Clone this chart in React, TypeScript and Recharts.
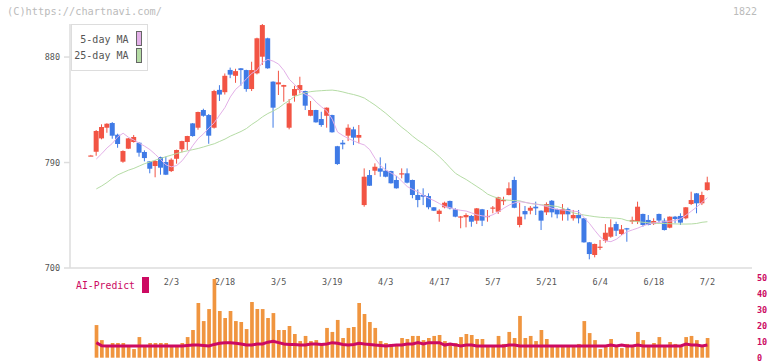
import React from 'react';
import { ComposedChart, Bar, Line, XAxis, YAxis, Legend } from 'recharts';

// ---- price data (daily candles) ----
const open = [
  796, 799.2, 810.6, 819.7, 823.7, 813.7, 790.7, 801.8, 807.5, 806.9,
  799, 791, 787, 794.7, 790.4, 782.7, 793.2, 801.3, 807.5, 823.4,
  819.7, 834.8, 830.5, 819.7, 852, 850, 869, 864, 870.4, 868.9,
  852.7, 866.1, 880.3, 896, 859, 856.7, 854.7, 819.7, 847, 851.8,
  851, 829.9, 834.8, 827.1, 829.9, 830.5, 803.9, 806.9, 812.9, 818.3,
  811.2, 753.7, 779.3, 783, 785, 783, 782.7, 775.1, 780.2, 780.8,
  775.1, 762.3, 762.3, 761.4, 751.8, 746.1, 751.8, 757.2, 750.1, 743.5,
  743.3, 744.4, 740.4, 750.1, 743.8, 750.9, 748, 757.4, 762.3, 775.1,
  736.7, 748.6, 748.9, 752.3, 748.9, 747.5, 757.4, 750.3, 745.8, 750.3,
  742.4, 745.2, 742.4, 721.9, 711.1, 717.3, 723.3, 726.7, 737.5, 729,
  733.9, 739.5, 739.5, 746.1, 741, 737.5, 746.1, 740.4, 734.4, 743.8,
  744.4, 742.4, 754.6, 763.7, 755.2, 766.5,
];
const high = [
  796.5, 817.7, 822.6, 823.5, 824.5, 814.6, 800.4, 811, 813.5, 807.2,
  800.4, 791.3, 792.1, 795, 795, 793.6, 801, 808.6, 812.8, 823.7,
  833.4, 835.9, 831.4, 852, 856, 866, 871, 870, 870.6, 869.2,
  876, 896.5, 908.2, 896.5, 859.3, 868.3, 856.3, 844.2, 855.5, 863.2,
  851.3, 842.5, 835, 833.3, 837, 830.8, 804.2, 809.2, 822.6, 820.5,
  822, 785, 783.6, 789.3, 794.4, 789.3, 783, 778.5, 785, 785,
  775.4, 767.1, 768, 763.7, 752, 750.1, 756.6, 757.5, 751, 744.4,
  746.7, 745.2, 751.2, 750.4, 749.5, 752.9, 760.8, 760.8, 773.1, 777.9,
  755.7, 752.9, 752.9, 756.6, 749.2, 756, 758, 750.6, 754.6, 751.5,
  749.5, 749.5, 742.7, 722.2, 720.8, 723.9, 737.5, 741.5, 739.5, 736.7,
  734.2, 743.8, 756.6, 746.4, 745.2, 742.4, 746.4, 742.4, 744, 744.4,
  746.7, 752, 765.1, 764, 765.1, 777.9,
];
const low = [
  795.8, 795.8, 809.8, 815.4, 810.3, 802.6, 789.8, 801.5, 807, 795,
  791, 780.8, 777.4, 779.6, 779.3, 781.9, 789, 798.7, 800.7, 812,
  818, 829.1, 806, 819, 842.5, 848, 862, 858, 855.5, 850.4,
  851, 865.2, 873.2, 870, 819.7, 847.6, 841.9, 818.3, 841.9, 849,
  834.8, 829.5, 824, 820.5, 819.7, 815.5, 788, 801.3, 808.3, 804.9,
  806.4, 752.3, 770, 779.3, 777.9, 777.4, 772, 767.7, 776.5, 772.2,
  759.5, 751.8, 753.7, 750.1, 748.6, 739.5, 750.9, 750, 743.3, 733.9,
  734.7, 735.2, 737.5, 735.8, 739.5, 746.7, 746.1, 753.7, 762, 751,
  734.7, 741.5, 745.8, 745.2, 732.4, 745.2, 743.2, 742.4, 740.4, 740.4,
  740.4, 738.1, 721.6, 707.4, 709.1, 715.4, 721.6, 725.8, 727.3, 728.1,
  722.4, 737.5, 737.5, 735.2, 736.4, 736.7, 738.1, 732, 733.9, 738.1,
  736.7, 741.5, 753.7, 746.7, 753.7, 766,
];
const close = [
  796, 816.9, 820.3, 823.1, 812.9, 805.8, 799.8, 810.6, 811.8, 798.4,
  793.8, 784.7, 791.3, 785.6, 779.6, 792.4, 800.7, 808.3, 812.6, 812.6,
  833.1, 829.9, 812.9, 851, 848, 864, 865, 868, 868.9, 852.7,
  868.9, 896, 907.3, 870.4, 836.8, 858.4, 856.1, 840.5, 852.7, 856.1,
  838.5, 834.8, 824.3, 822, 836.8, 815.8, 788.7, 805.5, 819.7, 811.2,
  813.5, 777.9, 770.2, 786.4, 782.2, 777.9, 772.3, 768, 780.8, 772.8,
  762.3, 758, 760.8, 751.8, 748.9, 748.9, 755.7, 750.9, 743.8, 744,
  745.2, 739.5, 750.9, 740.4, 744.4, 751.6, 760.3, 758, 768, 751.4,
  743.8, 745.8, 751.4, 750.9, 740.4, 754.6, 747.5, 745.8, 750.3, 745.8,
  745.2, 742.4, 721.9, 711.9, 720.5, 718.2, 730.1, 734.7, 731.8, 733,
  733, 741, 752.3, 736.7, 736.7, 740.1, 740.5, 732.4, 743.8, 741.8,
  738.7, 751.8, 758, 755.2, 762.3, 773.1,
];

// ---- moving averages ----
const ma5 = [
  null, 793, 797.5, 802.5, 806.4, 812, 815, 811.5, 809.2, 806.5,
  804, 801, 797, 792.5, 788, 786.3, 787.5, 791.5, 797.5, 804.5,
  810.5, 814.5, 819.5, 824, 830.5, 837, 846, 852.5, 856.5, 861.5,
  866, 869, 875.5, 878, 876.5, 874, 868.5, 861, 856.5, 851.5,
  848, 846.5, 841.5, 837.5, 834, 827, 816, 813, 810.5, 808.5,
  806.5, 805, 801, 793.5, 787.5, 783.6, 781, 778.5, 774, 769.5,
  767, 765, 762, 759.5, 757.5, 755, 752.5, 751.5, 750, 749.2,
  748.6, 747, 745.3, 744.5, 743.8, 745.5, 748, 751, 753.7, 755.5,
  756.6, 756, 755.2, 754.5, 753.7, 752.5, 751, 750, 749.5, 749,
  748.5, 748, 743, 738, 732, 726.5, 723, 722.5, 724.5, 728,
  730.9, 732.5, 734, 736, 737.5, 738.5, 739, 739.5, 740, 740.5,
  742, 745, 748.5, 752, 756, 760,
];
const ma25 = [
  null, 767.5, 770, 773, 776.5, 779.5, 781.5, 783.5, 785, 787,
  789, 790.5, 792, 793.5, 795, 796.3, 797.7, 799, 800, 801,
  802, 803.3, 804.7, 806, 808, 810, 812.5, 814.5, 816.5, 819,
  822.5, 825.5, 829, 831.8, 834, 836.5, 840, 843, 846.5, 848,
  849.5, 850.5, 851, 851.3, 851.6, 851.8, 851.2, 850.2, 849, 848,
  846.7, 845, 842, 839, 835.5, 832, 828, 824, 820, 816.5,
  812.5, 809, 806, 802.5, 799, 795, 790.5, 785.5, 780.8, 778,
  775.5, 772.5, 769.5, 766.5, 763, 761, 759.5, 758.2, 757.8, 757.5,
  757.3, 756, 755, 754.5, 754, 753.5, 753, 752.5, 751, 749,
  747, 746, 745.2, 744.5, 743.8, 743.3, 743, 742.8, 742.5, 742,
  740.5, 740, 739.5, 739, 738.6, 738.2, 738, 738, 737.8, 737.6,
  737.5, 737.5, 737.6, 738, 739, 739.5,
];

// ---- volume panel ----
const volume = [
  null,
  20.4, 11, 7.3, 9.2, 9.2, 9.2, 7.3, 5.4, 12.9, 7.3,
  9.2, 9.2, 9.2, 9.2, 7.3, 7.3, 9.2, 12.9, 17.3, 34.2,
  22.9, 30.4, 49.2, 29.2, 24.8, 29.2, 22.9, 22.3, 17.9, 34.8,
  30.4, 30.4, 24.8, 27.9, 17.3, 17.3, 19.8, 14.8, 10.4, 13.6,
  10.4, 11, 8.6, 18.6, 16.1, 23.6, 12.3, 18.6, 19.2, 34.2,
  27.3, 22.3, 18.6, 10.4, 9.2, 8.6, 7.9, 12.3, 11.7, 13.6,
  13.6, 11, 12.3, 13.6, 14.2, 10.4, 9.2, 9.2, 12.9, 14.8,
  14.2, 11.7, 11.7, 7.3, 7.3, 13.6, 8.6, 16.1, 12.3, 26.1,
  12.3, 13.6, 10.4, 17.3, 11.7, 7.3, 7.3, 7.3, 7.3, 7.3,
  8.6, 22.9, 15.4, 11, 5.4, 6.7, 11.7, 7.9, 6.0, 8.6,
  7.3, 16.1, 11, 7.3, 9.2, 12.9, 7.3, 9.8, 8.6, 7.3,
  12.9, 13.6, 11, 7.3, 12.3,
];
const aiPredict = [
  null,
  9.4, 7.5, 7.3, 7.3, 7.3, 7.3, 7.3, 7.3, 7.3, 7.3,
  7.3, 7.3, 7.3, 7.3, 7.3, 7.3, 7.3, 7.6, 7.9, 7.9,
  7.6, 7.3, 8.3, 9.0, 9.4, 9.4, 9.0, 8.6, 7.9, 7.9,
  8.6, 8.6, 9.7, 10.2, 9.4, 8.6, 8.3, 8.3, 7.9, 7.9,
  8.6, 8.6, 8.3, 8.6, 9.4, 9.0, 8.3, 7.9, 8.3, 9.0,
  8.6, 8.3, 7.9, 7.6, 7.3, 7.6, 7.9, 7.9, 8.6, 8.6,
  9.4, 8.6, 9.4, 9.4, 9.4, 7.9, 8.6, 8.0, 7.3, 7.9,
  7.9, 7.3, 7.3, 7.3, 7.3, 7.3, 7.3, 7.9, 7.9, 7.3,
  7.3, 7.3, 7.3, 7.3, 7.3, 7.3, 7.3, 7.3, 7.3, 7.3,
  7.3, 7.3, 7.3, 7.3, 7.3, 7.3, 7.9, 7.3, 7.9, 7.3,
  7.3, 7.9, 7.3, 7.3, 7.3, 7.3, 7.3, 7.3, 7.3, 7.3,
  8.5, 7.9, 7.9, 7.3, 7.9,
];

// ---- axis labels ----
const dateTickIndex = [15, 25, 35, 45, 55, 65, 75, 85, 95, 105, 115];
const dateTickLabels = ['2/3', '2/18', '3/5', '3/19', '4/3', '4/17', '5/7', '5/21', '6/4', '6/18', '7/2'];
const priceTicks = [700, 790, 880];
const volumeTicks = [0, 10, 20, 30, 40, 50];

// Bottom frame: spans the whole plot (in day-index units, incl. side padding)
// and is marked off into 11 equal sections.
const FRAME_DOMAIN: [number, number] = [-3.918, 123.31];
const FRAME_SECTIONS = 11;
const frameTicks = Array.from(
  { length: FRAME_SECTIONS + 1 },
  (_, k) => FRAME_DOMAIN[0] + ((FRAME_DOMAIN[1] - FRAME_DOMAIN[0]) * k) / FRAME_SECTIONS,
);

const rows = open.map((o, i) => ({
  i,
  open: o,
  high: high[i],
  low: low[i],
  close: close[i],
  range: [low[i], high[i]],
  ma5: ma5[i],
  ma25: ma25[i],
  volume: volume[i],
  ai: aiPredict[i],
}));

const W = 772;
const H = 361;
const FONT = "'DejaVu Sans Mono', monospace";
const UP = '#f25444';
const DOWN = '#3f7ae6';
const AXIS = '#dddddd';
const LABEL = '#555555';
const CRIMSON = '#cc0a62';
const ORANGE = '#f0953f';
const PINK = '#e3b0e8';
const GREEN = '#b5dca5';
const PAD = { left: 18.3, right: 41.9 };
// price scale runs from the 700 floor up to the period high
const PRICE_DOMAIN: [number, number] = [700, Math.max(...high)];

const labelFor = (v: number) => {
  const k = dateTickIndex.indexOf(v);
  return k >= 0 ? dateTickLabels[k] : '';
};

// One candle: wick over the whole [low, high] bar, body between open and close.
const Candle = (props: any) => {
  const { x, y, width, height, payload } = props;
  if (!payload || height == null) return null;
  const { open: o, close: c, high: h, low: l } = payload;
  const color = c >= o ? UP : DOWN;
  const k = height / (h - l);
  const top = y + (h - Math.max(o, c)) * k;
  const bot = y + (h - Math.min(o, c)) * k;
  const cx = x + width / 2;
  return (
    <g>
      <line x1={cx} x2={cx} y1={y} y2={y + height} stroke={color} strokeWidth={1} />
      <rect x={x} y={top} width={width} height={Math.max(bot - top, 1.2)} fill={color} />
    </g>
  );
};

const MaLegend = (props: any) => {
  const items = (props.payload || []).filter((p: any) => p.type !== 'none');
  return (
    <div
      style={{
        position: 'relative',
        width: 77,
        height: 47,
        boxSizing: 'border-box',
        border: `1.5px solid ${AXIS}`,
        background: '#fff',
        fontFamily: FONT,
        fontSize: 10,
        color: LABEL,
      }}
    >
      {items.map((it: any, k: number) => (
        <React.Fragment key={it.value}>
          <span
            style={{
              position: 'absolute',
              left: 0,
              width: 56.5,
              top: 9.5 + k * 16.5,
              lineHeight: '10px',
              textAlign: 'right',
              whiteSpace: 'nowrap',
            }}
          >
            {it.value}
          </span>
          <span
            style={{
              position: 'absolute',
              left: 63.5,
              top: 5.5 + k * 17,
              width: 6.3,
              height: 15,
              boxSizing: 'border-box',
              border: '1px solid #666',
              background: it.color,
            }}
          />
        </React.Fragment>
      ))}
    </div>
  );
};

const AiLegend = (props: any) => {
  const items = (props.payload || []).filter((p: any) => p.type !== 'none');
  return (
    <div style={{ position: 'relative', width: 75, height: 17, fontFamily: FONT }}>
      {items.map((it: any) => (
        <React.Fragment key={it.value}>
          <span
            style={{
              position: 'absolute',
              left: 0,
              top: 4.8,
              lineHeight: '10px',
              fontSize: 9.8,
              color: it.color,
              whiteSpace: 'nowrap',
            }}
          >
            {it.value}
          </span>
          <span
            style={{
              position: 'absolute',
              left: 65.7,
              top: 0.7,
              width: 7.3,
              height: 16,
              background: it.color,
            }}
          />
        </React.Fragment>
      ))}
    </div>
  );
};

export default function App() {
  return (
    <div
      style={{
        position: 'absolute',
        left: 0,
        top: 0,
        width: W,
        height: H,
        background: '#fff',
        overflow: 'hidden',
        fontFamily: FONT,
      }}
    >
      <div style={{ position: 'absolute', left: 0, top: 0 }}>
        <ComposedChart width={W} height={H} data={rows} margin={{ top: 24, right: 20, bottom: 62, left: 0 }}>
          <XAxis
            xAxisId="axisA"
            dataKey="i"
            type="number"
            domain={FRAME_DOMAIN}
            ticks={frameTicks}
            interval={0}
            allowDataOverflow
            height={6}
            tick={false}
            tickSize={6}
            axisLine={{ stroke: AXIS, strokeWidth: 1.5 }}
            tickLine={{ stroke: AXIS, strokeWidth: 1.5 }}
          />
          <XAxis
            xAxisId="axisB"
            dataKey="i"
            type="category"
            height={25}
            padding={PAD}
            ticks={dateTickIndex}
            interval={0}
            tickFormatter={labelFor}
            axisLine={false}
            tickLine={false}
            tickSize={0}
            tickMargin={5}
            tick={{ fill: LABEL, fontSize: 8.5, fontFamily: FONT }}
          />
          <YAxis
            yAxisId="p"
            domain={PRICE_DOMAIN}
            ticks={priceTicks}
            interval={0}
            width={70}
            allowDataOverflow
            tickSize={6}
            tickMargin={4}
            axisLine={{ stroke: AXIS, strokeWidth: 1.5 }}
            tickLine={{ stroke: AXIS, strokeWidth: 1.5 }}
            tick={{ fill: LABEL, fontSize: 8.5, fontFamily: FONT }}
          />
          {/* invisible helper series so the frame axis gets a scale */}
          <Line
            xAxisId="axisA"
            yAxisId="p"
            dataKey="close"
            stroke="none"
            dot={false}
            activeDot={false}
            legendType="none"
            isAnimationActive={false}
          />
          <Line
            xAxisId="axisB"
            yAxisId="p"
            dataKey="ma25"
            name="25-day MA"
            stroke={GREEN}
            strokeWidth={1}
            dot={false}
            isAnimationActive={false}
          />
          <Line
            xAxisId="axisB"
            yAxisId="p"
            dataKey="ma5"
            name="5-day MA"
            stroke={PINK}
            strokeWidth={1}
            dot={false}
            isAnimationActive={false}
          />
          <Bar
            xAxisId="axisB"
            yAxisId="p"
            dataKey="range"
            barSize={5}
            shape={Candle}
            legendType="none"
            isAnimationActive={false}
          />
          <Legend
            layout="vertical"
            align="center"
            verticalAlign="middle"
            wrapperStyle={{ left: 71, top: 24, width: 77, height: 47 }}
            content={(p: any) => (
              <MaLegend
                payload={[...(p.payload || [])].sort((a: any, b: any) =>
                  a.value === '5-day MA' ? -1 : b.value === '5-day MA' ? 1 : 0,
                )}
              />
            )}
          />
        </ComposedChart>
      </div>

      <div style={{ position: 'absolute', left: 0, top: 0 }}>
        <ComposedChart width={W} height={H} data={rows} margin={{ top: 277.7, right: 0, bottom: 3.3, left: 70 }}>
          <XAxis dataKey="i" type="category" hide padding={PAD} />
          <YAxis
            orientation="right"
            domain={[0, 50]}
            ticks={volumeTicks}
            interval={0}
            width={20}
            axisLine={false}
            tickLine={false}
            tickSize={0}
            tickMargin={5}
            tick={{ fill: CRIMSON, fontSize: 8.5, fontWeight: 'bold', fontFamily: FONT }}
          />
          <Bar dataKey="volume" fill={ORANGE} barSize={3.7} legendType="none" isAnimationActive={false} />
          <Line
            dataKey="ai"
            name="AI-Predict"
            stroke={CRIMSON}
            strokeWidth={3}
            dot={false}
            isAnimationActive={false}
          />
          <Legend
            layout="vertical"
            align="center"
            verticalAlign="middle"
            wrapperStyle={{ left: 76, top: 276, width: 75, height: 17 }}
            content={(p: any) => <AiLegend payload={p.payload} />}
          />
        </ComposedChart>
      </div>

      <div
        style={{
          position: 'absolute',
          left: 7,
          top: 6,
          fontSize: 10.3,
          lineHeight: '11px',
          color: '#bbbbbb',
          whiteSpace: 'nowrap',
        }}
      >
        (C)https://chartnavi.com/
      </div>
      <div
        style={{
          position: 'absolute',
          left: 733,
          top: 6,
          fontSize: 10,
          lineHeight: '11px',
          color: '#bbbbbb',
        }}
      >
        1822
      </div>
    </div>
  );
}
